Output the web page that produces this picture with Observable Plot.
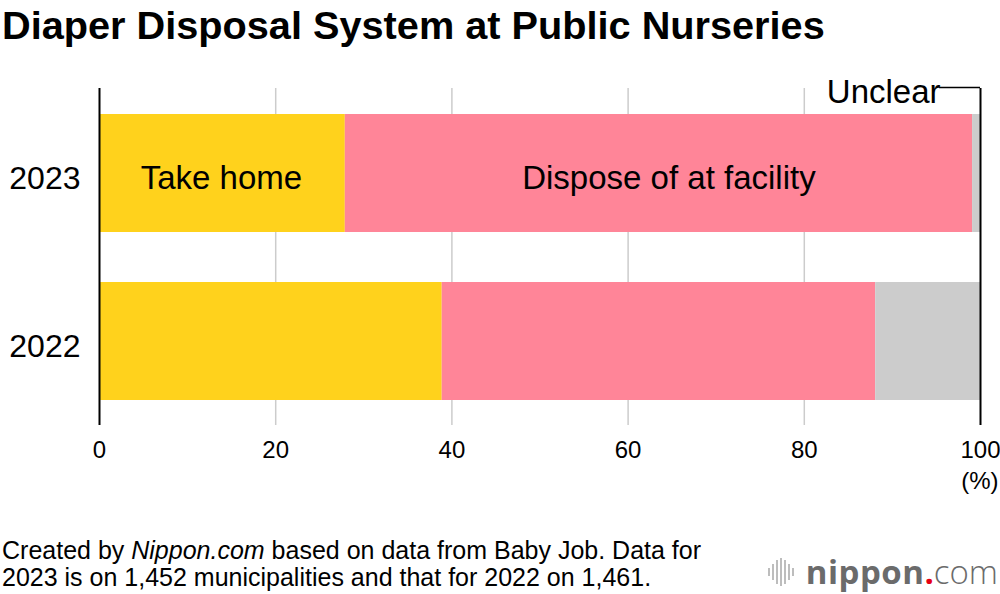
<!DOCTYPE html>
<html>
<head>
<meta charset="utf-8">
<script src="https://cdn.jsdelivr.net/npm/d3@7"></script>
<script src="https://cdn.jsdelivr.net/npm/@observablehq/plot@0.6"></script>
<style>
  html, body { margin: 0; padding: 0; background: #fff; }
  body { width: 1000px; height: 594px; position: relative; overflow: hidden; font-family: "Liberation Sans", Arial, sans-serif; color: #000; }
  #title { position: absolute; left: 2px; top: 5px; font-size: 39.7px; line-height: 40px; font-weight: bold; white-space: nowrap; }
  #chart { position: absolute; left: 0; top: 55px; }
  #caption { position: absolute; left: 2px; top: 537px; font-size: 25px; line-height: 27px; white-space: nowrap; }
  #logo { position: absolute; right: 2px; top: 549px; font-family: "Open Sans", "Liberation Sans", sans-serif; font-size: 33px; color: #6b6b6b; white-space: nowrap; display: flex; align-items: center; }
  #logo .b { font-weight: bold; letter-spacing: 0.5px; }
  #logo .d { color: #e60012; font-weight: bold; }
  #logo .c { font-weight: 300; }
</style>
</head>
<body>
<div id="title">Diaper Disposal System at Public Nurseries</div>
<div id="chart"></div>
<div id="caption">Created by <i>Nippon.com</i> based on data from Baby Job. Data for<br>2023 is on 1,452 municipalities and that for 2022 on 1,461.</div>
<div id="logo"><svg width="34" height="30" viewBox="0 0 34 30" style="margin-right:6px"><g fill="#bdbdbd"><rect x="2" y="11" width="2" height="8"/><rect x="6" y="7" width="2" height="16"/><rect x="10" y="3" width="2" height="24"/><rect x="14" y="1" width="2" height="28"/><rect x="18" y="3" width="2" height="24"/><rect x="22" y="7" width="2" height="16"/><rect x="26" y="11" width="2" height="8"/></g></svg><span class="b">nippon</span><span class="d">.</span><span class="c">com</span></div>
<script>
const years = ["2023", "2022"];
const categories = ["Take home", "Dispose of at facility", "Unclear"];
const takeHome = [27.9, 38.9];
const disposeAtFacility = [71.2, 49.2];
const unclear = [0.9, 11.9];
const xTicks = [0, 20, 40, 60, 80, 100];
const gridTicks = [20, 40, 60, 80];
const colors = ["#ffd21c", "#ff8598", "#cccccc"];

const series = [takeHome, disposeAtFacility, unclear];
const data = [];
years.forEach((y, i) => categories.forEach((c, j) => data.push({year: y, category: c, value: series[j][i]})));

const stackOpts = {x: "value", y: "year", z: "category", order: categories};
const is = (cat) => (d) => d.year === "2023" && d.category === cat;

const plot = Plot.plot({
  width: 1000,
  height: 450,
  marginLeft: 99,
  marginRight: 20,
  marginTop: 33,
  marginBottom: 80,
  style: {fontFamily: "'Liberation Sans', Arial, sans-serif", color: "#000", background: "transparent"},
  x: {domain: [0, 100], axis: null},
  y: {domain: years, paddingInner: 0.3, paddingOuter: 0.15, axis: null},
  color: {domain: categories, range: colors},
  marks: [
    Plot.ruleX(gridTicks, {stroke: "#cccccc", strokeWidth: 1.5}),
    Plot.barX(data, Plot.stackX({...stackOpts, fill: "category"})),
    Plot.ruleX([0, 100], {stroke: "#000", strokeWidth: 2}),
    Plot.axisX({ticks: xTicks, tickSize: 0, tickPadding: 15, fontSize: 24, label: null, tickFormat: d => String(d)}),
    Plot.axisY({tickSize: 0, tickPadding: 19, fontSize: 32, dy: 5, label: null}),
    Plot.text(["(%)"], {frameAnchor: "bottom-right", text: d => d, dx: 18, dy: 63, fontSize: 24, textAnchor: "end"}),
    Plot.text(data, Plot.filter(is("Take home"), Plot.stackX({...stackOpts, text: "category", fontSize: 33, dy: 5, dx: -1}))),
    Plot.text(data, Plot.filter(is("Dispose of at facility"), Plot.stackX({...stackOpts, text: "category", fontSize: 33, dy: 5, dx: 10}))),
    // Unclear annotation
    Plot.text(data, Plot.filter(is("Unclear"), Plot.stackX({...stackOpts, text: "category", fontSize: 33, textAnchor: "end", dx: -36, dy: -81}))),
    Plot.ruleX(data, Plot.filter(is("Unclear"), Plot.stackX({...stackOpts, stroke: "#000", strokeWidth: 1.5, insetTop: -28, insetBottom: 118}))),
    Plot.ruleY(data, Plot.filter(is("Unclear"), Plot.stackX({...stackOpts, stroke: "#000", strokeWidth: 1.5, insetLeft: -33, dy: -86})))
  ]
});
document.getElementById("chart").appendChild(plot);
</script>
</body>
</html>
